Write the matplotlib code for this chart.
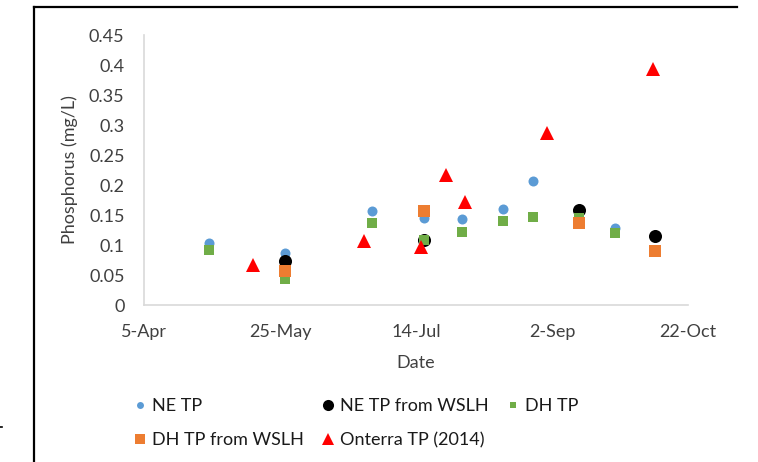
import matplotlib
matplotlib.use("Agg")
import matplotlib.pyplot as plt
from matplotlib.lines import Line2D
import pandas as pd

plt.rcParams['font.family'] = ['Lato', 'DejaVu Sans']

# Total phosphorus samples (mg/L), 2014 season
ne_tp_dates = ['2014-04-29', '2014-05-27', '2014-06-28', '2014-07-17', '2014-07-31',
               '2014-08-15', '2014-08-26', '2014-09-25']
ne_tp = [0.104, 0.086, 0.157, 0.145, 0.143, 0.160, 0.207, 0.128]

ne_wslh_dates = ['2014-05-27', '2014-07-17', '2014-09-12', '2014-10-10']
ne_wslh = [0.073, 0.109, 0.159, 0.115]

dh_tp_dates = ['2014-04-29', '2014-05-27', '2014-06-28', '2014-07-17', '2014-07-31',
               '2014-08-15', '2014-08-26', '2014-09-12', '2014-09-25']
dh_tp = [0.092, 0.043, 0.137, 0.108, 0.122, 0.140, 0.147, 0.145, 0.120]

dh_wslh_dates = ['2014-05-27', '2014-07-17', '2014-09-12', '2014-10-10']
dh_wslh = [0.057, 0.156, 0.137, 0.090]

onterra_dates = ['2014-05-15', '2014-06-25', '2014-07-16', '2014-07-25', '2014-08-01',
                 '2014-08-31', '2014-10-09']
onterra = [0.066, 0.107, 0.096, 0.217, 0.171, 0.286, 0.394]

x_ticks = ['2014-04-05', '2014-05-25', '2014-07-14', '2014-09-02', '2014-10-22']
x_tick_labels = ['5-Apr', '25-May', '14-Jul', '2-Sep', '22-Oct']
y_ticks = [0, 0.05, 0.1, 0.15, 0.2, 0.25, 0.3, 0.35, 0.4, 0.45]
y_tick_labels = ['0', '0.05', '0.1', '0.15', '0.2', '0.25', '0.3', '0.35', '0.4', '0.45']

series = [
    ('NE TP', ne_tp_dates, ne_tp, 'o', '#5B9BD5', 7.2, 5.0),
    ('NE TP from WSLH', ne_wslh_dates, ne_wslh, 'o', '#000000', 9.4, 8.0),
    ('DH TP', dh_tp_dates, dh_tp, 's', '#70AD47', 7.2, 5.0),
    ('DH TP from WSLH', dh_wslh_dates, dh_wslh, 's', '#ED7D31', 8.0, 6.5),
    ('Onterra TP (2014)', onterra_dates, onterra, '^', '#FF0000', 10.0, 8.5),
]

W, H = 758, 462
fig = plt.figure(figsize=(W / 100, H / 100), dpi=100)
ax = fig.add_axes([144 / W, 1 - 305 / H, (688 - 144) / W, (305 - 35) / H])

handles = {}
for name, dates, vals, marker, color, ms, lms in series:
    ax.plot(pd.to_datetime(dates), vals, linestyle='none', marker=marker,
            markersize=ms, color=color, markeredgewidth=0)
    handles[name] = Line2D([], [], linestyle='none', marker=marker, markersize=lms,
                           color=color, markeredgewidth=0)

ax.set_xlim(pd.Timestamp(x_ticks[0]), pd.Timestamp(x_ticks[-1]))
ax.set_ylim(0, 0.45)
ax.set_xticks(pd.to_datetime(x_ticks))
ax.set_xticklabels(x_tick_labels)
ax.set_yticks(y_ticks)
ax.set_yticklabels(y_tick_labels)

text_color = '#404040'
ax.tick_params(axis='both', length=0, labelsize=13, colors=text_color)
ax.tick_params(axis='y', pad=14)
ax.tick_params(axis='x', pad=14)

for side in ('top', 'right'):
    ax.spines[side].set_visible(False)
for side in ('left', 'bottom'):
    ax.spines[side].set_color('#D9D9D9')
    ax.spines[side].set_linewidth(1.2)

ax.set_ylabel('Phosphorus (mg/L)', fontsize=13, color=text_color, va='center')
ax.yaxis.set_label_coords((70 - 144) / 544, 0.5)
ax.set_xlabel('Date', fontsize=13, color=text_color, va='center')
ax.xaxis.set_label_coords(0.5, (305 - 363) / 270)

order = ['NE TP', 'DH TP from WSLH', 'NE TP from WSLH', 'Onterra TP (2014)', 'DH TP']
fig.legend([handles[k] for k in order], order, ncol=3, loc='upper left',
           bbox_to_anchor=(135 / W, 1 - 398 / H), frameon=False, fontsize=13,
           labelcolor='#1a1a1a', handlelength=0.6, handletextpad=0.35,
           columnspacing=1.05, labelspacing=1.0, borderpad=0, borderaxespad=0)

# outer frame lines
fig.add_artist(Line2D([34 / W, 34 / W], [0, 1 - 6.5 / H], color='black', linewidth=1.6))
fig.add_artist(Line2D([33.5 / W, 737 / W], [1 - 7 / H, 1 - 7 / H], color='black', linewidth=1.6))
fig.add_artist(Line2D([0, 2 / W], [1 - 427 / H, 1 - 427 / H], color='black', linewidth=1.2))

fig.savefig('out.png', dpi=100)
